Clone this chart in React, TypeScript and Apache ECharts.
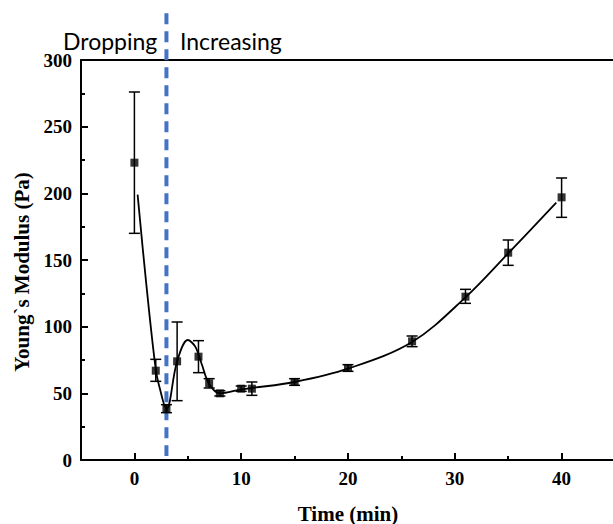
import React, { useEffect, useRef } from "react";
import * as echarts from "echarts";

// Measured data (time in min, Young's modulus in Pa)
const timeMin = [0, 2, 3, 4, 6, 7, 8, 10, 11, 15, 20, 26, 31, 35, 40];
const modulus = [223, 67, 38.5, 74, 77.5, 57.5, 50, 53.5, 53.5, 58.5, 69, 89, 122.5, 155.5, 197];
const errLow = [170, 59, 35.5, 44.5, 65.5, 54, 48, 51.5, 48.5, 56, 66.5, 85, 117.5, 146, 182];
const errHigh = [276, 75.5, 41.5, 103.5, 89.5, 61, 52, 55.5, 58.5, 61, 71.5, 93, 128, 165, 211.5];

// Fitted (smoothed) curve
const fitX = [0.3, 1.1, 2, 2.4, 3, 4, 5, 5.7, 6.3, 7, 8, 10, 11, 15, 20, 26, 31, 35, 39.5];
const fitY = [199, 133, 68, 53, 38, 74, 90, 85, 72, 57, 50, 53, 54, 58.5, 68.5, 88.5, 122, 155, 193];

const xMajorTicks = [0, 10, 20, 30, 40];
const xMinorTicks = [5, 15, 25, 35];
const dividerTime = 3;
const dividerRange = [3, 335];

const serif = "'Liberation Serif', 'Times New Roman', serif";

export default function App() {
  const ref = useRef<HTMLDivElement>(null);
  useEffect(() => {
    if (!ref.current) return;
    const chart = echarts.init(ref.current, null, { renderer: "svg" });
    const errData = timeMin.map((t, i) => [t, errLow[i], errHigh[i]]);
    chart.setOption({
      animation: false,
      backgroundColor: "#fff",
      grid: {
        left: 81,
        top: 60,
        width: 534,
        height: 400,
        outerBoundsMode: "none",
        containLabel: false,
        show: false,
      },
      xAxis: [
        {
          type: "value",
          min: -5,
          max: 45,
          name: "Time (min)",
          nameLocation: "middle",
          nameGap: 43,
          nameTextStyle: { fontFamily: serif, fontWeight: "bold", fontSize: 21, color: "#000" },
          axisLine: { show: true, onZero: false, lineStyle: { color: "#000", width: 2 } },
          axisTick: { show: true, inside: true, length: 7, lineStyle: { color: "#000", width: 2 }, customValues: xMajorTicks },
          axisLabel: { customValues: xMajorTicks, fontFamily: serif, fontWeight: "bold", fontSize: 19, color: "#000", margin: 9 },
          splitLine: { show: false },
        },
        {
          type: "value",
          min: -5,
          max: 45,
          position: "bottom",
          axisLine: { show: false, onZero: false },
          axisTick: { show: true, inside: true, length: 4, lineStyle: { color: "#000", width: 2 }, customValues: xMinorTicks },
          axisLabel: { show: false },
          splitLine: { show: false },
        },
        {
          type: "value",
          min: -5,
          max: 45,
          position: "top",
          axisLine: { show: true, onZero: false, lineStyle: { color: "#000", width: 2 } },
          axisTick: { show: false },
          axisLabel: { show: false },
          splitLine: { show: false },
        },
      ],
      yAxis: {
        type: "value",
        min: 0,
        max: 300,
        interval: 50,
        name: "Young`s Modulus (Pa)",
        nameLocation: "middle",
        nameGap: 48,
        nameTextStyle: { fontFamily: serif, fontWeight: "bold", fontSize: 21, color: "#000", padding: [0, 24, 0, 0] },
        axisLine: { show: true, onZero: false, lineStyle: { color: "#000", width: 2 } },
        axisTick: { show: true, inside: true, length: 7, lineStyle: { color: "#000", width: 2 } },
        minorTick: { show: true, splitNumber: 2, length: 4, lineStyle: { color: "#000", width: 2 } },
        axisLabel: { fontFamily: serif, fontWeight: "bold", fontSize: 19, color: "#000", margin: 9 },
        splitLine: { show: false },
      },
      series: [
        {
          type: "custom",
          name: "divider",
          clip: false,
          data: [[dividerTime, dividerRange[0], dividerRange[1]]],
          renderItem: (params: any, api: any) => {
            const top = api.coord([api.value(0), api.value(2)]);
            const bot = api.coord([api.value(0), api.value(1)]);
            return {
              type: "line",
              shape: { x1: top[0], y1: top[1], x2: bot[0], y2: bot[1] },
              style: { stroke: "#4472C4", lineWidth: 4, lineDash: [11, 7] },
            };
          },
          z: 1,
        },
        {
          type: "line",
          name: "fit",
          data: fitX.map((x, i) => [x, fitY[i]]),
          smooth: 0.35,
          showSymbol: false,
          lineStyle: { color: "#000", width: 1.8 },
          z: 2,
        },
        {
          type: "custom",
          name: "error",
          data: errData,
          renderItem: (params: any, api: any) => {
            const lo = api.coord([api.value(0), api.value(1)]);
            const hi = api.coord([api.value(0), api.value(2)]);
            const w = 5.5;
            const st = { stroke: "#000", lineWidth: 1.5 };
            return {
              type: "group",
              children: [
                { type: "line", shape: { x1: lo[0], y1: lo[1], x2: hi[0], y2: hi[1] }, style: st },
                { type: "line", shape: { x1: lo[0] - w, y1: lo[1], x2: lo[0] + w, y2: lo[1] }, style: st },
                { type: "line", shape: { x1: hi[0] - w, y1: hi[1], x2: hi[0] + w, y2: hi[1] }, style: st },
              ],
            };
          },
          z: 3,
        },
        {
          type: "scatter",
          name: "modulus",
          data: timeMin.map((t, i) => [t, modulus[i]]),
          symbol: "rect",
          symbolSize: 8,
          itemStyle: { color: "#000" },
          z: 4,
        },
      ],
      graphic: [
        {
          type: "text",
          left: 63,
          top: 29,
          style: { text: "Dropping", fontFamily: "Lato, 'Open Sans', sans-serif", fontSize: 23, fill: "#000" },
        },
        {
          type: "text",
          left: 180,
          top: 29,
          style: { text: "Increasing", fontFamily: "Lato, 'Open Sans', sans-serif", fontSize: 23, fill: "#000" },
        },
      ],
    });
    return () => chart.dispose();
  }, []);
  return (
    <div style={{ position: "absolute", left: 0, top: 0, width: 613, height: 524, overflow: "hidden" }}>
      <div ref={ref} style={{ position: "absolute", left: 0, top: 0, width: 660, height: 524 }} />
    </div>
  );
}
